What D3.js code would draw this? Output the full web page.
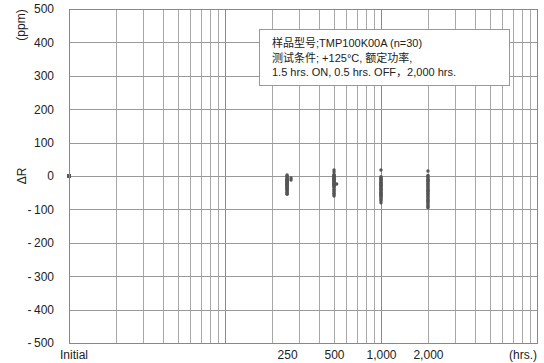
<!DOCTYPE html>
<html>
<head>
<meta charset="utf-8">
<script src="https://cdn.jsdelivr.net/npm/d3@7"></script>
<style>
  body { margin: 0; background: #fff; }
  text { font-family: "Liberation Sans", Arial, "Noto Sans CJK SC", sans-serif; fill: #222; }
</style>
</head>
<body>
<div id="container"></div>
<script>
/* DATA */
// test hours and their labels (log axis, 10..10000 hrs.)
const xTicks = [250, 500, 1000, 2000]
const xTickLabels = ["250", "500", "1,000", "2,000"]
const yTicks = [-500, -400, -300, -200, -100, 0, 100, 200, 300, 400, 500]

// ΔR (ppm) for the 30 samples at each check point
const initialVals = [0, 0, 0, 0, 0, 0, 0, 0, 0, 0, 0, 0, 0, 0, 0, 0, 0, 0, 0, 0, 0, 0, 0, 0, 0, 0, 0, 0, 0, 0]
const vals250 = [3, 0, -2, -5, -8, -10, -12, -14, -15, -17, -18, -20, -22, -23, -25, -26, -28, -30, -32, -33, -35, -37, -40, -42, -45, -48, -50, -53, -55, -12]
const vals500 = [18, 12, 5, 2, 0, -2, -4, -6, -8, -10, -12, -14, -15, -17, -18, -20, -22, -23, -25, -27, -28, -30, -32, -35, -40, -44, -48, -52, -56, -60]
const vals1000 = [18, -2, -5, -8, -10, -12, -15, -18, -20, -22, -25, -28, -30, -32, -35, -38, -40, -42, -45, -48, -50, -52, -55, -58, -60, -63, -66, -70, -74, -80]
const vals2000 = [15, 2, -3, -6, -10, -13, -16, -20, -23, -26, -30, -33, -36, -40, -43, -46, -50, -53, -56, -60, -63, -66, -70, -73, -76, -80, -84, -88, -92, -95]
// a couple of dots drawn slightly right of their column: [hours, ppm]
const sidePoints = [[265, -12], [265, -6], [520, -24]]

const legendLines = [
  "样品型号;TMP100K00A (n=30)",
  "测试条件; +125°C, 额定功率,",
  "1.5 hrs. ON, 0.5 hrs. OFF，2,000 hrs."
]

/* CONSTANTS */
const width = 544, height = 363
const mLeft = 69, mRight = 537, mTop = 9, mBottom = 343

const svg = d3.select("#container")
  .append("svg")
  .attr("width", width)
  .attr("height", height)

/* SCALES */
const xScale = d3.scaleLog().domain([10, 10000]).range([mLeft, mRight])
const yScale = d3.scaleLinear().domain([-500, 500]).range([mBottom, mTop])

// grid: vertical log lines
const gridX = []
;[10, 100, 1000].forEach(k => d3.range(1, 10).forEach(m => gridX.push(k * m)))
gridX.push(10000)

const snap = v => Math.round(v) + 0.5

svg.append("g").selectAll("line")
  .data(gridX)
  .join("line")
  .attr("x1", d => snap(xScale(d)))
  .attr("x2", d => snap(xScale(d)))
  .attr("y1", mTop)
  .attr("y2", mBottom)
  .attr("stroke", d => Math.log10(d) % 1 === 0 ? "#8a8a8a" : "#a8a8a8")
  .attr("stroke-width", 1)

svg.append("g").selectAll("line")
  .data(yTicks)
  .join("line")
  .attr("x1", mLeft)
  .attr("x2", mRight)
  .attr("y1", d => snap(yScale(d)))
  .attr("y2", d => snap(yScale(d)))
  .attr("stroke", "#999")
  .attr("stroke-width", 1)

/* AXES */
const yAxis = d3.axisLeft(yScale)
  .tickValues(yTicks)
  .tickSize(0)
  .tickPadding(15)
  .tickFormat(d => d < 0 ? "-\u2009" + Math.abs(d) : d)

svg.append("g")
  .attr("transform", `translate(${mLeft},0)`)
  .call(yAxis)
  .call(g => g.select(".domain").remove())
  .selectAll("text")
  .style("font-size", "12px")
  .attr("fill", "#222")

const xAxis = d3.axisBottom(xScale)
  .tickValues(xTicks)
  .tickSize(0)
  .tickPadding(7.5)
  .tickFormat((d, i) => xTickLabels[i])

svg.append("g")
  .attr("transform", `translate(0,${mBottom})`)
  .call(xAxis)
  .call(g => g.select(".domain").remove())
  .selectAll("text")
  .style("font-size", "12px")
  .attr("fill", "#222")

svg.append("text")
  .attr("x", 60).attr("y", 359)
  .style("font-size", "12px")
  .text("Initial")

svg.append("text")
  .attr("x", mRight).attr("y", 359)
  .attr("text-anchor", "end")
  .style("font-size", "12px")
  .text("(hrs.)")

svg.append("text")
  .attr("transform", "translate(26,176) rotate(-90)")
  .attr("text-anchor", "middle")
  .style("font-size", "12px")
  .text("ΔR")

svg.append("text")
  .attr("transform", "translate(25,25) rotate(-90)")
  .attr("text-anchor", "middle")
  .style("font-size", "12px")
  .text("(ppm)")

/* POINTS */
const points = []
initialVals.forEach(v => points.push([10, v]))
vals250.forEach(v => points.push([250, v]))
vals500.forEach(v => points.push([500, v]))
vals1000.forEach(v => points.push([1000, v]))
vals2000.forEach(v => points.push([2000, v]))
sidePoints.forEach(p => points.push(p))

svg.append("g").selectAll("circle")
  .data(points)
  .join("circle")
  .attr("cx", d => xScale(d[0]))
  .attr("cy", d => yScale(d[1]))
  .attr("r", 1.7)
  .attr("fill", "#555")

// frame
svg.append("rect")
  .attr("x", mLeft + 0.5).attr("y", mTop + 0.5)
  .attr("width", mRight - mLeft).attr("height", mBottom - mTop)
  .attr("fill", "none")
  .attr("stroke", "#888")

/* LEGEND BOX */
const legend = svg.append("g")
legend.append("rect")
  .attr("x", 259.5).attr("y", 29.5)
  .attr("width", 250).attr("height", 56)
  .attr("fill", "#fff")
  .attr("stroke", "#999")

legend.selectAll("text")
  .data(legendLines)
  .join("text")
  .attr("x", 272)
  .attr("y", (d, i) => 47 + i * 14.5)
  .style("font-size", "11px")
  .text(d => d)
</script>
</body>
</html>
